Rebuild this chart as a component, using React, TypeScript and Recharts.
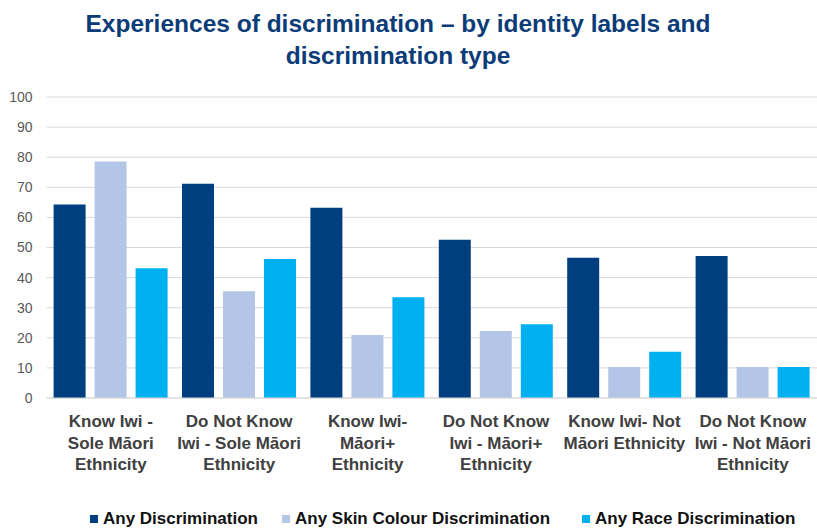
import React from "react";
import { BarChart, Bar, XAxis, YAxis, CartesianGrid, Legend } from "recharts";

const categories = [
  "Know Iwi -\nSole Māori\nEthnicity",
  "Do Not Know\nIwi - Sole Māori\nEthnicity",
  "Know Iwi-\nMāori+\nEthnicity",
  "Do Not Know\nIwi - Māori+\nEthnicity",
  "Know Iwi- Not\nMāori Ethnicity",
  "Do Not Know\nIwi - Not Māori\nEthnicity",
];
const anyDiscrimination = [64.3, 71.2, 63.2, 52.6, 46.6, 47.2];
const skinColour = [78.6, 35.5, 20.9, 22.3, 10.3, 10.3];
const raceDiscrimination = [43.1, 46.2, 33.5, 24.5, 15.4, 10.3];
const yTicks = [0, 10, 20, 30, 40, 50, 60, 70, 80, 90, 100];

const seriesNames = ["Any Discrimination", "Any Skin Colour Discrimination", "Any Race Discrimination"];
const seriesColors = ["#003F7F", "#B4C6E7", "#00B0F0"];

const data = categories.map((c, i) => ({
  name: c,
  a: anyDiscrimination[i],
  b: skinColour[i],
  c: raceDiscrimination[i],
}));

const FONT = "'Liberation Sans', Arial, sans-serif";

const XTick = (props: any) => {
  const { x, y, payload } = props;
  const lines = String(payload.value).split("\n");
  return (
    <text x={x} y={y} textAnchor="middle" fill="#404040" fontFamily={FONT} fontWeight="bold" fontSize={17}>
      {lines.map((l, i) => (
        <tspan key={i} x={x} y={y + 29 + i * 21.7}>
          {l}
        </tspan>
      ))}
    </text>
  );
};

const LegendContent = () => {
  const lefts = [90, 282, 582];
  return (
    <div style={{ position: "relative", height: 20, width: 817 }}>
      {seriesNames.map((n, i) => (
        <div
          key={n}
          style={{
            position: "absolute",
            left: lefts[i],
            top: 0,
            display: "flex",
            alignItems: "center",
            fontFamily: FONT,
            fontWeight: "bold",
            fontSize: 17,
            lineHeight: "19px",
            color: "#111111",
            whiteSpace: "nowrap",
          }}
        >
          <span style={{ display: "inline-block", width: 8, height: 8, background: seriesColors[i], marginRight: 5 }} />
          {n}
        </div>
      ))}
    </div>
  );
};

export default function App() {
  return (
    <div style={{ position: "absolute", left: 0, top: 0, width: 817, height: 529, background: "#fff" }}>
      <div
        style={{
          position: "absolute",
          left: 0,
          top: 8,
          width: 796,
          textAlign: "center",
          fontFamily: FONT,
          fontWeight: "bold",
          fontSize: 24.5,
          lineHeight: "32px",
          color: "#0B3C78",
        }}
      >
        Experiences of discrimination – by identity labels and
        <br />
        discrimination type
      </div>
      <BarChart
        width={817}
        height={529}
        data={data}
        margin={{ top: 97, right: 0, bottom: 0, left: 0 }}
        barCategoryGap={7}
        barGap={9}
        style={{ position: "absolute", left: 0, top: 0 }}
      >
        <CartesianGrid vertical={false} stroke="#D9D9D9" strokeWidth={1} />
        <XAxis
          dataKey="name"
          interval={0}
          height={111}
          tickLine={false}
          tickSize={0}
          tickMargin={0}
          axisLine={{ stroke: "#D9D9D9" }}
          tick={<XTick />}
        />
        <YAxis
          width={46.6}
          domain={[0, 100]}
          ticks={yTicks}
          interval={0}
          axisLine={false}
          tickLine={false}
          tickSize={0}
          tickMargin={14}
          tick={{ fill: "#595959", fontSize: 14, fontFamily: FONT }}
        />
        <Legend
          verticalAlign="bottom"
          content={<LegendContent />}
          wrapperStyle={{ position: "absolute", left: 0, top: 509, width: 817 }}
        />
        <Bar dataKey="a" name={seriesNames[0]} fill={seriesColors[0]} isAnimationActive={false} />
        <Bar dataKey="b" name={seriesNames[1]} fill={seriesColors[1]} isAnimationActive={false} />
        <Bar dataKey="c" name={seriesNames[2]} fill={seriesColors[2]} isAnimationActive={false} />
      </BarChart>
    </div>
  );
}
